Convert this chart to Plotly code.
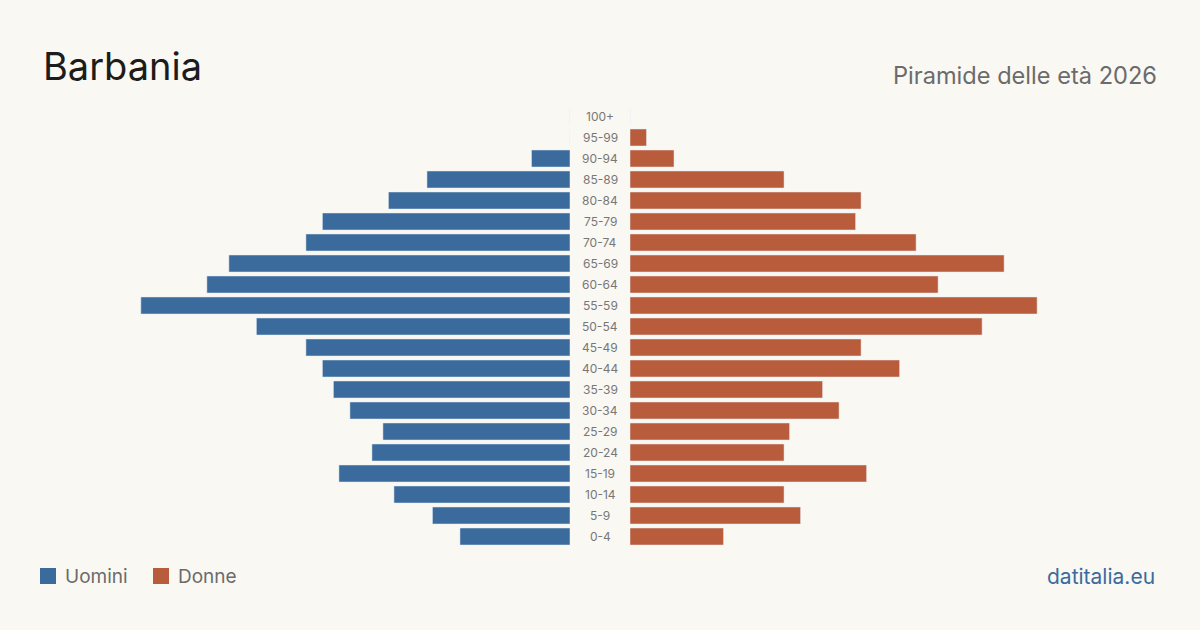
import plotly.graph_objects as go

age_groups = ["0-4", "5-9", "10-14", "15-19", "20-24", "25-29", "30-34", "35-39",
              "40-44", "45-49", "50-54", "55-59", "60-64", "65-69", "70-74", "75-79",
              "80-84", "85-89", "90-94", "95-99", "100+"]
men = [20, 25, 32, 42, 36, 34, 40, 43, 45, 48, 57, 78, 66, 62, 48, 45, 33, 26, 7, 0, 0]
women = [17, 31, 28, 43, 28, 29, 38, 35, 49, 42, 64, 74, 56, 68, 52, 41, 42, 28, 8, 3, 0]

BG = "#faf8f3"
BLUE = "#3a6b9c"
ORANGE = "#b95c3c"
FONT = "Inter"
xmax = 103.6

W, H = 1200, 630
MT, MB = 106, 83
PH = H - MT - MB


def py(pix):
    # pixel row -> paper y (paper spans the plot area vertically)
    return (H - MB - pix) / PH


def px(pix):
    return pix / W


ypos = list(range(len(age_groups)))

fig = go.Figure()
fig.add_trace(go.Bar(y=ypos, x=men, orientation="h", marker_color=BLUE,
                     name="Uomini", xaxis="x", yaxis="y", showlegend=False,
                     hovertext=age_groups))
fig.add_trace(go.Bar(y=ypos, x=women, orientation="h", marker_color=ORANGE,
                     name="Donne", xaxis="x2", yaxis="y", showlegend=False,
                     hovertext=age_groups))

annotations = []
for i, lab in enumerate(age_groups):
    annotations.append(dict(x=0.5, y=i, xref="paper", yref="y", text=lab,
                            showarrow=False, xanchor="center", yanchor="middle",
                            font=dict(family=FONT, size=12, color="#777777")))

annotations += [
    dict(x=px(41), y=py(66), xref="paper", yref="paper", text="Barbania",
         showarrow=False, xanchor="left", yanchor="middle",
         font=dict(family=FONT, size=38, color="#1c1c1c")),
    dict(x=px(1159), y=py(76), xref="paper", yref="paper",
         text="Piramide delle età 2026", showarrow=False, xanchor="right",
         yanchor="middle", font=dict(family=FONT, size=23.6, color="#6b6b6b")),
    dict(x=px(63), y=py(576), xref="paper", yref="paper", text="Uomini",
         showarrow=False, xanchor="left", yanchor="middle",
         font=dict(family=FONT, size=19, color="#6b6b6b")),
    dict(x=px(176), y=py(576), xref="paper", yref="paper", text="Donne",
         showarrow=False, xanchor="left", yanchor="middle",
         font=dict(family=FONT, size=19, color="#6b6b6b")),
    dict(x=px(1157), y=py(576), xref="paper", yref="paper",
         text="datitalia.eu", showarrow=False, xanchor="right", yanchor="middle",
         font=dict(family=FONT, size=21, color=BLUE)),
]

shapes = [
    dict(type="rect", xref="paper", yref="paper", x0=px(40), x1=px(56),
         y0=py(584), y1=py(568), fillcolor=BLUE, line_width=0),
    dict(type="rect", xref="paper", yref="paper", x0=px(153), x1=px(169),
         y0=py(584), y1=py(568), fillcolor=ORANGE, line_width=0),
]

fig.update_layout(
    width=W, height=H,
    margin=dict(l=0, r=0, t=MT, b=MB),
    paper_bgcolor=BG, plot_bgcolor="rgba(0,0,0,0)",
    bargap=0.19,
    xaxis=dict(domain=[0, 570 / 1200], range=[xmax, 0], visible=False, fixedrange=True),
    xaxis2=dict(domain=[630 / 1200, 1], range=[0, xmax], visible=False, fixedrange=True),
    yaxis=dict(range=[-0.5, 20.5], visible=False, fixedrange=True),
    annotations=annotations,
    shapes=shapes,
    font=dict(family=FONT),
)

fig.write_html("out.html", config={"displayModeBar": False})
